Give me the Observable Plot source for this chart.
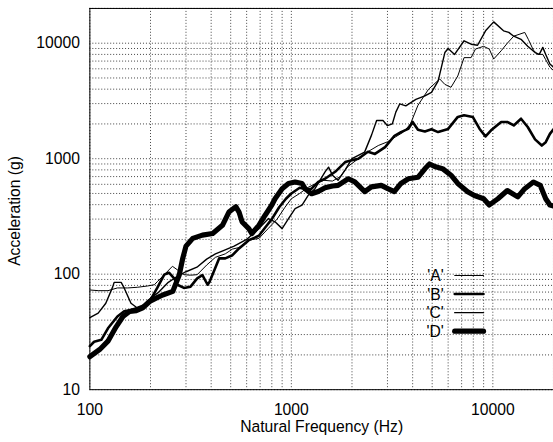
<!DOCTYPE html>
<html>
<head>
<meta charset="utf-8">
<script src="https://cdn.jsdelivr.net/npm/d3@7"></script>
<script src="https://cdn.jsdelivr.net/npm/@observablehq/plot@0.6"></script>
<style>
  html, body { margin: 0; padding: 0; background: #fff; overflow: hidden; }
  #chart { width: 553px; height: 442px; overflow: hidden; }
  svg, svg text, svg g { font-family: "Liberation Sans", Arial, sans-serif !important; }
</style>
</head>
<body>
<div id="chart"></div>
<script>
// ---- data ----
const seriesNames = ["'A'", "'B'", "'C'", "'D'"];
const seriesWidths = [1, 2.6, 1.4, 5.2];

const freqA = [100,110,123,137,154,172,193,209,216,234,257,272,293,316,341,380,420,470,510,550,615,690,770,850,930,1000,1100,1200,1300,1450,1600,1750,1900,2150,2400,2700,3000,3300,3600,3900,4250,4800,5450,5780,6200,6700,7200,7800,8200,9000,9600,10100,11000,11800,12700,14400,15000,15900,16700,17700,18300,19200,20000];
const accA  = [73,72,72,76,76,77,79,81,86,99,117,109,99,98,99,120,140,150,165,170,197,204,250,300,380,450,500,560,600,650,640,700,850,1000,1150,1300,1400,1550,1700,2000,2900,4000,4900,4400,4150,5200,7500,7500,8900,9400,8900,7300,8600,10000,11500,12400,10800,8700,8000,8000,7200,6200,5800];

const freqB = [100,105,114,123,137,148,160,172,186,200,216,234,247,262,272,293,316,341,362,384,393,438,470,510,550,615,690,750,800,870,940,1000,1100,1200,1260,1360,1470,1650,1850,2000,2150,2400,2600,2920,3250,3500,3800,4000,4250,4600,4960,5350,6000,6700,7200,7950,8600,9200,9800,11000,11800,12700,13800,14900,16200,17500,18300,19200,20000];
const accB  = [23.8,26,27,34,43,47.7,49,51,54,60,76,99,103,92,81,76,78,92,98,81,86,137,137,146,167,197,215,260,300,380,450,500,560,540,550,630,670,770,935,970,1000,1150,1100,1260,1580,1700,1810,2080,1780,1720,1800,1700,1810,2300,2380,2300,1810,1560,1760,2080,2080,1940,2220,1880,1470,1300,1390,1640,1800];

const freqC = [100,110,120,130,132,143,148,160,172,182,200,220,245,270,300,340,380,420,460,520,600,690,770,830,900,968,1044,1130,1210,1310,1470,1530,1600,1705,1850,2000,2310,2500,2650,2850,3000,3170,3300,3450,3700,4150,4600,4960,5350,5780,6000,6460,7200,7800,8400,9200,10100,11300,12000,12700,13800,14900,16200,17000,17700,18300,19200,20000];
const accC  = [42,46,56,78,85,85,76,56,51,53,62,70,85,95,105,115,135,150,160,175,200,248,303,284,248,303,370,397,480,550,770,845,720,650,800,1000,1140,1600,2140,2140,1930,2000,2530,2980,2870,3260,3500,3750,4700,8300,9000,8000,10500,9800,9600,12800,15300,12800,12400,11500,10800,9400,8300,8000,9200,8000,6600,6200];

const freqD = [100,112,123,135,146,158,170,183,198,213,230,258,278,289,300,324,362,407,455,490,530,550,570,615,637,690,741,800,830,900,968,1044,1130,1170,1260,1360,1470,1600,1705,1916,2065,2313,2496,2795,3010,3242,3500,3810,4250,4600,4850,5200,5630,6200,6700,7500,8100,9000,9600,10600,11800,13300,14400,15900,17200,18300,19200,20000];
const accD  = [19.3,22.3,26.3,35,43,47.7,48.3,51,58,62,66,71,99,137,175,204,218,225,265,345,384,345,283,248,225,265,324,397,450,550,610,628,610,550,497,520,560,580,587,670,630,518,570,587,550,518,610,670,690,818,900,850,820,720,610,518,480,450,397,450,530,467,550,628,587,450,397,390];

const xTicks = [100, 1000, 10000];
const yTicks = [10, 100, 1000, 10000];
const xLabel = "Natural Frequency (Hz)";
const yLabel = "Acceleration (g)";

// ---- build tables ----
const mk = (fs, vs) => fs.map((f, i) => ({f, v: vs[i]}));
const tables = [mk(freqA, accA), mk(freqB, accB), mk(freqC, accC), mk(freqD, accD)];

const decadeGrid = (lo, hi) => {
  const out = [];
  for (let d = lo; d < hi; d *= 10) for (let k = 1; k < 10; k++) if (d * k <= hi) out.push(d * k);
  out.push(hi);
  return out;
};
const gridX = decadeGrid(100, 20000);
const gridY = decadeGrid(10, 20000);

const FS = 15.8;
const FONT = "'Liberation Sans', Arial, sans-serif";
const width = 557, height = 442;
const gridStyle = {stroke: "#000", strokeOpacity: 0.75, strokeDasharray: "1,2", strokeWidth: 1};

const plot = Plot.plot({
  width, height,
  marginLeft: 90, marginRight: 0, marginTop: 8, marginBottom: 50,
  style: {fontSize: FS + "px", fontFamily: FONT, background: "#fff", color: "#000", overflow: "visible"},
  x: {type: "log", domain: [100, 20000], ticks: xTicks, tickFormat: d => String(d), label: null, tickSize: 0, tickPadding: 14},
  y: {type: "log", domain: [10, 20000], ticks: yTicks, tickFormat: d => String(d), label: null, tickSize: 0, tickPadding: 10},
  marks: [
    Plot.ruleX(gridX, gridStyle),
    Plot.ruleY(gridY, gridStyle),
    ...tables.map((t, i) => Plot.line(t, {x: "f", y: "v", stroke: "#000", strokeWidth: seriesWidths[i], strokeLinejoin: "round", strokeLinecap: "round"})),
    Plot.frame({stroke: "#000", strokeWidth: 1}),
    Plot.text([xLabel], {frameAnchor: "bottom", lineAnchor: "middle", textAnchor: "middle", dy: 38, text: d => d, fontSize: FS}),
    Plot.text([yLabel], {frameAnchor: "left", lineAnchor: "middle", textAnchor: "middle", dx: -75, dy: 12, rotate: -90, text: d => d, fontSize: FS})
  ]
});

// legend inside the plot area
const svg = d3.select(plot);
const legX = 447, legY0 = 277.5, legDy = 18.7;
seriesNames.forEach((name, i) => {
  const yy = legY0 + i * legDy;
  svg.append("text").attr("x", legX).attr("y", yy).attr("dy", "0.36em")
    .attr("text-anchor", "end").attr("font-size", FS).attr("fill", "#000").text(name);
  svg.append("line").attr("x1", 458).attr("x2", 487).attr("y1", yy).attr("y2", yy)
    .attr("stroke", "#000").attr("stroke-width", seriesWidths[i]).attr("stroke-linecap", "round");
});

document.getElementById("chart").appendChild(plot);
</script>
</body>
</html>
